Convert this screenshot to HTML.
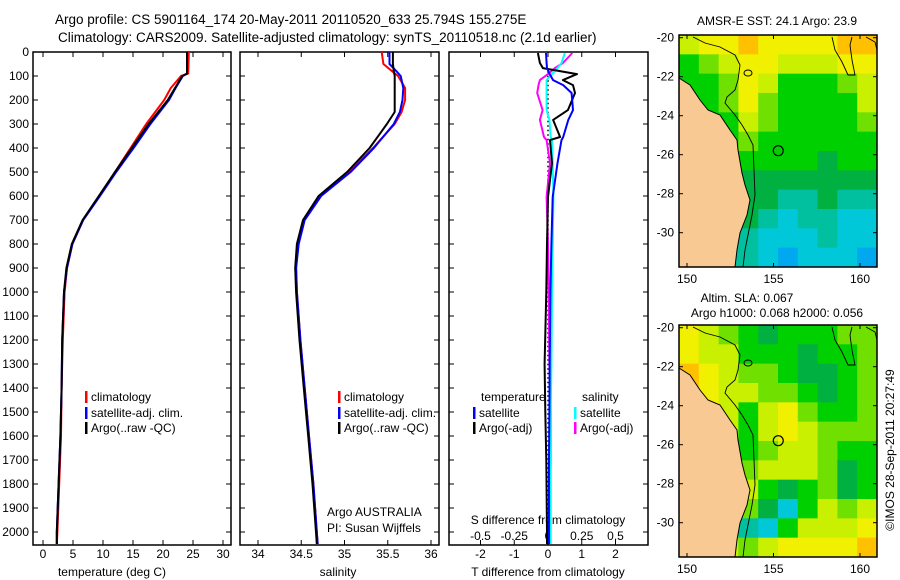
<!DOCTYPE html>
<html><head><meta charset="utf-8"><style>
html,body{margin:0;padding:0;background:#fff;}
svg{display:block;font-family:"Liberation Sans",sans-serif;}
text{fill:#000;}
</style></head><body>
<svg id="c" width="900" height="580" viewBox="0 0 900 580" xmlns="http://www.w3.org/2000/svg">
<text x="55" y="24" font-size="13.5">Argo profile: CS 5901164_174 20-May-2011 20110520_633 25.794S 155.275E</text>
<text x="58" y="42" font-size="13.5">Climatology: CARS2009. Satellite-adjusted climatology: synTS_20110518.nc (2.1d earlier)</text>
<text x="777" y="25" font-size="12" text-anchor="middle">AMSR-E SST: 24.1 Argo: 23.9</text>
<text x="747" y="302" font-size="12" text-anchor="middle">Altim. SLA: 0.067</text>
<text x="777" y="317" font-size="12" text-anchor="middle">Argo h1000: 0.068 h2000: 0.056</text>
<text transform="translate(894,450) rotate(-90)" font-size="12" text-anchor="middle">©IMOS 28-Sep-2011 20:27:49</text>
<text x="112" y="576" font-size="12" text-anchor="middle">temperature (deg C)</text>
<text x="338" y="576" font-size="12" text-anchor="middle">salinity</text>
<text x="548" y="576" font-size="12" text-anchor="middle">T difference from climatology</text>
<text x="548" y="524" font-size="12" text-anchor="middle">S difference from climatology</text>
<text x="327" y="516" font-size="12">Argo AUSTRALIA</text>
<text x="327" y="532" font-size="12">PI: Susan Wijffels</text>
<g id="g"></g>
</svg>
<script>
// ---- profile data (depth in m) ----
const tDepth = [0,90,100,150,200,300,400,500,600,700,800,900,1000,1200,1400,1600,1800,2000,2050];
const tArgo  = [24,24,23.2,22,20.8,17.6,14.8,12,9.3,6.6,4.8,3.9,3.5,3.2,3.1,2.9,2.6,2.3,2.3];
const tClim  = [24.3,24.2,23,21.3,20.2,17.2,14.6,12,9.4,6.7,4.9,4,3.6,3.3,3.1,3,2.7,2.4,2.3];
const tSat   = [24,24,23.3,22.1,21,17.9,15.1,12.2,9.5,6.7,4.9,4,3.5,3.2,3.1,2.9,2.6,2.3,2.3];
const sDepth = [0,50,80,100,150,200,250,300,400,500,600,700,800,900,1000,1200,1400,1600,1800,2000,2050];
const sArgo  = [35.56,35.56,35.57,35.58,35.58,35.58,35.58,35.49,35.29,35.03,34.7,34.52,34.45,34.43,34.44,34.48,34.53,34.58,34.63,34.67,34.68];
const sClim  = [35.43,35.45,35.55,35.62,35.7,35.7,35.66,35.58,35.33,35.05,34.72,34.53,34.46,34.44,34.45,34.49,34.54,34.59,34.64,34.68,34.69];
const sSat   = [35.52,35.52,35.6,35.65,35.68,35.67,35.64,35.57,35.34,35.07,34.73,34.54,34.47,34.44,34.45,34.49,34.54,34.59,34.64,34.68,34.69];
// ---- difference data ----
const dDepth = [4,46,67,92,117,138,171,242,283,354,367,463,604,800,1000,1300,1500,1700,2000,2050];
const dTArgo = [-0.3,-0.24,-0.15,0.86,0.44,0.74,0.8,0.59,0.15,0.36,0.06,0.12,0,-0.03,-0.05,-0.1,-0.08,-0.05,-0.03,-0.03];
const dTSat  = [-0.06,-0.04,-0.03,0.05,0.15,0.45,0.7,0.74,0.6,0.45,0.4,0.28,0.14,0.1,0.07,0.05,0.04,0.03,0.03,0.03];
const dSArgo = [0.18,0.11,0.05,0.0,-0.06,-0.07,-0.08,-0.04,-0.06,-0.03,-0.01,0.015,-0.01,0,0.005,0.01,0.02,0.02,0.01,0.01];
const dSSat  = [0.125,0.1,0.07,0.03,-0.01,-0.01,-0.01,-0.01,0.01,0.02,0.03,0.035,0.04,0.035,0.03,0.025,0.02,0.02,0.02,0.02];
// ---- ticks ----
const depthTicks = [0,100,200,300,400,500,600,700,800,900,1000,1100,1200,1300,1400,1500,1600,1700,1800,1900,2000];
const tTicks = [0,5,10,15,20,25,30];
const sTicks = [34,34.5,35,35.5,36];
const tdTicks = [-2,-1,0,1,2];
const sdTicks = [-0.5,-0.25,0,0.25,0.5];
const sdLabels = ["-0.5","-0.25","0","0.25","0.5"];
const lonTicks = [150,155,160];
const latTicks = [-20,-22,-24,-26,-28,-30];
// ---- map grids (palette indices, 12 rows x 10 cols, north to south) ----
const sstGrid = [
[7,8,8,9,8,8,8,8,9,9],[5,6,7,8,8,7,7,7,8,8],[5,5,6,8,7,5,5,5,6,7],[5,5,6,8,6,5,5,5,5,7],
[4,5,5,7,6,5,5,5,5,6],[4,4,5,6,5,5,5,5,5,5],[3,4,4,5,5,5,5,4,5,5],[3,3,4,4,4,4,4,4,4,4],
[3,3,4,4,4,3,3,4,3,3],[2,2,3,4,3,2,3,3,2,2],[2,2,3,3,2,2,2,3,2,2],[2,2,3,3,2,1,2,2,2,1]];
const slaGrid = [
[8,7,6,5,4,5,5,5,6,6],[8,7,7,5,5,5,4,5,5,6],[9,8,7,6,6,5,4,4,5,6],[9,8,7,7,6,6,5,4,5,6],
[9,8,7,5,7,8,6,5,5,6],[9,8,7,5,7,8,7,6,6,6],[9,8,7,5,6,7,7,6,5,5],[9,8,7,6,7,7,7,6,4,5],
[9,8,7,7,5,4,5,6,4,5],[9,8,7,6,4,2,5,7,6,7],[9,8,6,3,2,5,7,7,7,8],[9,8,7,6,7,8,8,8,8,9]];
const argoLon = 155.275, argoLat = -25.794;

const NS="http://www.w3.org/2000/svg", G=document.getElementById('g');
function mk(tag,attrs,parent){const e=document.createElementNS(NS,tag);for(const k in attrs)e.setAttribute(k,attrs[k]);(parent||G).appendChild(e);return e;}
const PT=52, PB=545;
const yD = d => PT + d*0.24;
const xT = v => 43 + v*6;
const xS = v => 258 + (v-34)*86.5;
const xTd = v => 548 + v*33.75;
const xSd = v => 548 + v*135;
const panels = [[33,231],[240,439],[449,648]];

function line(xs,ds,fx,color,name){
  const p = xs.map((v,i)=>fx(v).toFixed(1)+','+yD(ds[i]).toFixed(1)).join(' ');
  const e = mk('polyline',{points:p,fill:'none',stroke:color,'stroke-width':2,'stroke-linejoin':'round'});
  
  
}
function txt(x,y,s,attrs,name){const e=mk('text',Object.assign({x:x,y:y,'font-size':12},attrs||{}));e.textContent=s;
  
  
  return e;}

panels.forEach((p,i)=>{
  const r = mk('rect',{x:p[0],y:PT,width:p[1]-p[0],height:PB-PT,fill:'none',stroke:'#000','stroke-width':1.5});
  
  
  depthTicks.forEach(d=>{
    mk('line',{x1:p[0],x2:p[0]+5,y1:yD(d),y2:yD(d),stroke:'#000'});
    mk('line',{x1:p[1]-5,x2:p[1],y1:yD(d),y2:yD(d),stroke:'#000'});
  });
});
depthTicks.forEach(d=>txt(29,yD(d)+4,String(d),{'text-anchor':'end'},'depth-tick-label'));
function xticks(ticks,fx,labels,p,ly){
  ticks.forEach((t,i)=>{
    mk('line',{x1:fx(t),x2:fx(t),y1:PB-5,y2:PB,stroke:'#000'});
    mk('line',{x1:fx(t),x2:fx(t),y1:PT,y2:PT+5,stroke:'#000'});
    txt(fx(t),ly,labels[i],{'text-anchor':'middle'},'x-tick-label');
  });
}
xticks(tTicks,xT,tTicks.map(String),panels[0],558);
xticks(sTicks,xS,sTicks.map(String),panels[1],558);
xticks(tdTicks,xTd,tdTicks.map(String),panels[2],558);
sdLabels.forEach((l,i)=>txt(xSd(sdTicks[i]),540,l,{'text-anchor':'middle'},'s-diff-tick-label'));

const z = mk('line',{x1:548,x2:548,y1:yD(80),y2:PB,stroke:'#000','stroke-width':1.5,'stroke-dasharray':'1.5,3'});



line(tClim,tDepth,xT,'#f00','temp-climatology-line');
line(tSat,tDepth,xT,'#00f','temp-satellite-line');
line(tArgo,tDepth,xT,'#000','temp-argo-line');
line(sClim,sDepth,xS,'#f00','sal-climatology-line');
line(sSat,sDepth,xS,'#00f','sal-satellite-line');
line(sArgo,sDepth,xS,'#000','sal-argo-line');
line(dSArgo,dDepth,xSd,'#f0f','sdiff-argo-line');
line(dSSat,dDepth,xSd,'#0ff','sdiff-satellite-line');
line(dTArgo,dDepth,xTd,'#000','tdiff-argo-line');
line(dTSat,dDepth,xTd,'#00f','tdiff-satellite-line');

function leg(x,y,c,label){
  const b = mk('rect',{x:x,y:y-10,width:2.5,height:12,fill:c});
  
  
  txt(x+6,y,label,{},'legend-entry');
}
[[85,'climatology','#f00',401],[85,'satellite-adj. clim.','#00f',417],[85,'Argo(..raw -QC)','#000',432]].forEach(a=>leg(a[0],a[3],a[2],a[1]));
[[338,'climatology','#f00',401],[338,'satellite-adj. clim.','#00f',417],[338,'Argo(..raw -QC)','#000',432]].forEach(a=>leg(a[0],a[3],a[2],a[1]));
txt(481,401,'temperature',{},'legend-header-temperature');
txt(582,401,'salinity',{},'legend-header-salinity');
leg(473,417,'#00f','satellite'); leg(473,432,'#000','Argo(-adj)');
leg(574,417,'#0ff','satellite'); leg(574,432,'#f0f','Argo(-adj)');

const palette=['#1050e0','#00a8f0','#00c8d8','#00c0a0','#00b040','#00d000','#70e000','#c8f000','#f0f000','#ffc000'];
const MX0=679, MX1=877, MW=MX1-MX0, MH=232;
const lonX = l => 687 + (l-150)*17.3;
const latY = (la,top) => top + 2.7 + (-20-la)*19.5;
function drawMap(grid,top,name){
  const g = mk('g',{});
  
  
  const rows=grid.length, cols=grid[0].length, cw=MW/cols, ch=MH/rows;
  grid.forEach((row,r)=>row.forEach((v,c)=>{
    const cell = mk('rect',{x:MX0+c*cw,y:top+r*ch,width:cw+0.5,height:ch+0.5,fill:palette[v]},g);
    
    
  }));
  const o = top-35;
  const coast=[[679,78],[690,85],[700,100],[708,110],[720,115],[730,130],[737,140],[738,150],[742,173],[745,185],[750,200],[747,215],[740,233],[737,250],[735,267]];
  const land = mk('polygon',{points:coast.map(p=>p[0]+','+(p[1]+o)).join(' ')+' 679,'+(267+o),fill:'#f9c994',stroke:'#000','stroke-width':1},g);
  
  
  const cont=[[693,37],[705,43],[720,47],[735,55],[740,65],[738,80],[735,90],[727,97],[725,103],[735,115],[742,125],[748,135],[753,145],[754,170],[755,195],[752,215],[748,235],[745,250],[743,267]];
  mk('polyline',{points:cont.map(p=>p[0]+','+(p[1]+o)).join(' '),fill:'none',stroke:'#000','stroke-width':0.9},g);
  const lobe=[[832,37],[835,50],[842,62],[848,75],[855,75],[852,60],[850,45],[852,37]];
  mk('polyline',{points:lobe.map(p=>p[0]+','+(p[1]+o)).join(' '),fill:'none',stroke:'#000','stroke-width':0.9},g);
  mk('polyline',{points:[[866,37],[875,42],[877,50]].map(p=>p[0]+','+(p[1]+o)).join(' '),fill:'none',stroke:'#000','stroke-width':0.9},g);
  mk('ellipse',{cx:748,cy:73+o,rx:4,ry:3,fill:'none',stroke:'#000'},g);
  const mk1 = mk('circle',{cx:lonX(argoLon),cy:latY(argoLat,top),r:5,fill:'none',stroke:'#000','stroke-width':1.2},g);
  
  
  const fr = mk('rect',{x:MX0,y:top,width:MW,height:MH,fill:'none',stroke:'#000','stroke-width':1.5},g);
  
  
  lonTicks.forEach(l=>{
    mk('line',{x1:lonX(l),x2:lonX(l),y1:top,y2:top+4,stroke:'#000'},g);
    mk('line',{x1:lonX(l),x2:lonX(l),y1:top+MH-4,y2:top+MH,stroke:'#000'},g);
    txt(lonX(l),top+MH+16,String(l),{'text-anchor':'middle'},'lon-tick-label');
  });
  latTicks.forEach(la=>{
    mk('line',{x1:MX0,x2:MX0+4,y1:latY(la,top),y2:latY(la,top),stroke:'#000'},g);
    mk('line',{x1:MX1-4,x2:MX1,y1:latY(la,top),y2:latY(la,top),stroke:'#000'},g);
    txt(674,latY(la,top)+4,String(la),{'text-anchor':'end'},'lat-tick-label');
  });
}
drawMap(sstGrid,35,'sst-map');
drawMap(slaGrid,325,'sla-map');
</script>
</body></html>
